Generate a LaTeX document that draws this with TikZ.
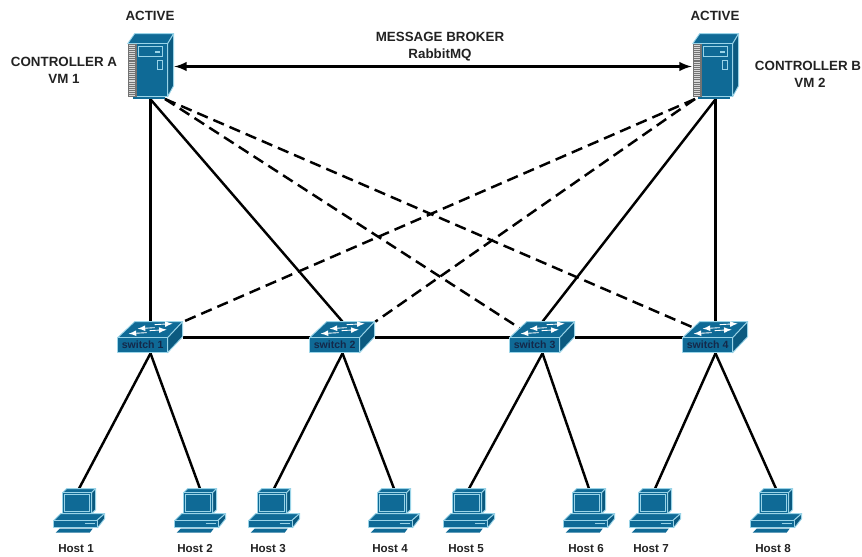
\documentclass[tikz,border=0pt]{standalone}
\usepackage{fontspec}
\setmainfont{Liberation Sans}
\usetikzlibrary{arrows}

\definecolor{iconblue}{HTML}{0F6A96}
\definecolor{icondark}{HTML}{0B5A80}
\definecolor{iconedge}{HTML}{9AD4E8}
\definecolor{labelink}{HTML}{222222}
\definecolor{switchink}{HTML}{14294A}

\tikzset{
  x=0.02cm, y=-0.02cm,
  serverbox/.style={inner sep=0, minimum width=0.94cm, minimum height=1.3cm},
  switchbox/.style={inner sep=0, minimum width=1.3cm, minimum height=0.62cm},
  hostbox/.style={inner sep=0, minimum width=1.04cm, minimum height=0.88cm},
  caption/.style={font=\bfseries\fontsize{7.6}{9}\selectfont, text=labelink, inner sep=0},
  hostcaption/.style={font=\bfseries\fontsize{6.6}{8}\selectfont, text=labelink, inner sep=0},
  switchcaption/.style={font=\bfseries\fontsize{6}{7}\selectfont, text=switchink, inner sep=0},
  link/.style={line width=1.4pt},
  dashlink/.style={line width=1.4pt, dash pattern=on 6.5pt off 3.5pt},
  face/.style={fill=iconblue, draw=iconedge, line width=0.5pt, line join=round},
  darkface/.style={fill=icondark, draw=iconedge, line width=0.5pt, line join=round},
  flow/.style={-latex, white, line width=0.5pt}
}

\newcommand{\servericon}[1]{
\begin{scope}[shift={(#1.north west)}]
\draw[face] (1,10) -- (8,0) -- (47,0) -- (41,10) -- cycle;
\draw[darkface] (41,10) -- (47,0) -- (47,52) -- (41,63) -- cycle;
\draw[face] (10,10) rectangle (41,63);
\fill[black!55] (1,10) rectangle (10,63);
\draw[white!85!black, line width=6.5pt*0.567, dash pattern=on 0.6pt off 0.6pt] (5.5,11) -- (5.5,62);
\draw[iconedge, line width=0.5pt] (12,13) rectangle (36,23);
\fill[iconedge] (28,17.5) rectangle (33,19);
\draw[iconedge, line width=0.5pt] (31,27) rectangle (36,36);
\fill[iconblue] (6,63) rectangle (38,65);
\end{scope}
}

\newcommand{\switchicon}[2]{
\begin{scope}[shift={(#1.north west)}]
\draw[face] (0,16) -- (17,0) -- (65,0) -- (50,16) -- cycle;
\draw[darkface] (50,16) -- (65,0) -- (65,15) -- (50,31) -- cycle;
\draw[face] (0,16) rectangle (50,31);
\draw[flow] (37,6) -- (20,7);
\draw[flow] (37,3) -- (55,2);
\draw[flow] (32,9) -- (49,8);
\draw[flow] (29,11) -- (11,12);
\node[switchcaption] (#1txt) at (25,23.5) {#2};
\end{scope}
}

\newcommand{\hosticon}[1]{
\begin{scope}[shift={(#1.north west)}]
\draw[face] (10,4) -- (14,0) -- (43,0) -- (39,4) -- cycle;
\draw[darkface] (39,4) -- (43,0) -- (43,21) -- (39,25) -- cycle;
\draw[face] (10,4) rectangle (39,25);
\draw[iconedge, line width=0.5pt] (12,6) rectangle (37,23);
\draw[face] (8,25) -- (52,25) -- (44,32) -- (1,32) -- cycle;
\draw[darkface] (44,32) -- (52,25) -- (52,30) -- (45,39) -- cycle;
\draw[face] (1,32) rectangle (45,39);
\draw[iconedge, line width=0.6pt] (32,35) -- (42,35);
\fill[iconblue] (7,40) -- (40,40) -- (37,44) -- (3,44) -- cycle;
\end{scope}
}

\begin{document}
\begin{tikzpicture}
\useasboundingbox (0,0) rectangle (862,557);

%% controllers
\node[serverbox] (ctrla) at (150.5,66.5) {};
\node[serverbox] (ctrlb) at (715.5,66.5) {};

%% switches
\node[switchbox] (sw1) at (150.5,337.5) {};
\node[switchbox] (sw2) at (342.5,337.5) {};
\node[switchbox] (sw3) at (542.5,337.5) {};
\node[switchbox] (sw4) at (715.5,337.5) {};

%% hosts
\node[hostbox] (h1) at (79,511) {};
\node[hostbox] (h2) at (200,511) {};
\node[hostbox] (h3) at (274,511) {};
\node[hostbox] (h4) at (394,511) {};
\node[hostbox] (h5) at (469,511) {};
\node[hostbox] (h6) at (589,511) {};
\node[hostbox] (h7) at (655,511) {};
\node[hostbox] (h8) at (776,511) {};

%% dashed ends
\coordinate (ctrladash) at (165,99);
\coordinate (ctrlbdash) at (695,99);
\coordinate (sw3dash) at (521,329);
\coordinate (sw4dash) at (692,327);

%% wires
\draw[link, latex-latex] (ctrla.east) -- (ctrlb.west);
\draw[link] (ctrla.south) -- (sw1.north);
\draw[link] (ctrla.south) -- (sw2.north);
\draw[link] (ctrlb.south) -- (sw3.north);
\draw[link] (ctrlb.south) -- (sw4.north);
\draw[dashlink] (ctrladash) -- (sw3dash);
\draw[dashlink] (ctrladash) -- (sw4dash);
\draw[dashlink] (ctrlbdash) -- (sw1.north east);
\draw[dashlink] (ctrlbdash) -- (sw2.north east);
\draw[link] (sw1.east) -- (sw2.west);
\draw[link] (sw2.east) -- (sw3.west);
\draw[link] (sw3.east) -- (sw4.west);
\draw[link] (sw1.south) -- (h1.north);
\draw[link] (sw1.south) -- (h2.north);
\draw[link] (sw2.south) -- (h3.north);
\draw[link] (sw2.south) -- (h4.north);
\draw[link] (sw3.south) -- (h5.north);
\draw[link] (sw3.south) -- (h6.north);
\draw[link] (sw4.south) -- (h7.north);
\draw[link] (sw4.south) -- (h8.north);

%% icons
\servericon{ctrla}
\servericon{ctrlb}
\switchicon{sw1}{switch 1}
\switchicon{sw2}{switch 2}
\switchicon{sw3}{switch 3}
\switchicon{sw4}{switch 4}
\hosticon{h1}
\hosticon{h2}
\hosticon{h3}
\hosticon{h4}
\hosticon{h5}
\hosticon{h6}
\hosticon{h7}
\hosticon{h8}

% labels
\node[caption] (act1) at (150,16) {ACTIVE};
\node[caption] (act2) at (715,16) {ACTIVE};
\node[caption] (lbl1) at (64,62) {CONTROLLER A};
\node[caption] (lbl2) at (64,79) {VM 1};
\node[caption] (lbl3) at (808,66) {CONTROLLER B};
\node[caption] (lbl4) at (810,83) {VM 2};
\node[caption] (lbl5) at (440,37) {MESSAGE BROKER};
\node[caption] (lbl6) at (440,55) {RabbitMQ};

\node[hostcaption] (t1) at (76,549) {Host 1};
\node[hostcaption] (t2) at (195,549) {Host 2};
\node[hostcaption] (t3) at (268,549) {Host 3};
\node[hostcaption] (t4) at (390,549) {Host 4};
\node[hostcaption] (t5) at (466,549) {Host 5};
\node[hostcaption] (t6) at (586,549) {Host 6};
\node[hostcaption] (t7) at (651,549) {Host 7};
\node[hostcaption] (t8) at (773,549) {Host 8};
\end{tikzpicture}
\end{document}
